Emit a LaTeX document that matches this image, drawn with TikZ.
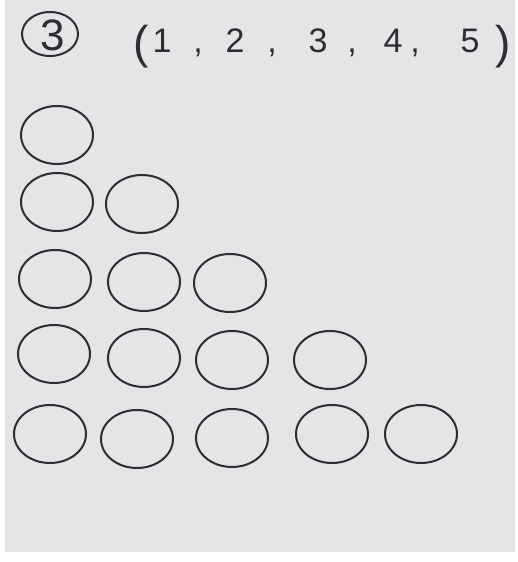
\documentclass[tikz,border=0pt]{standalone}
\usepackage{fontspec}
\setmainfont{Liberation Sans}
\usetikzlibrary{shapes.geometric}
\definecolor{paper}{RGB}{228,229,231}
\definecolor{ink}{RGB}{45,45,50}
\tikzset{
  ring/.style={draw=ink, line width=2pt, ellipse, minimum width=72pt, minimum height=58pt, inner sep=0pt},
  glyph/.style={text=ink, anchor=base, inner sep=0pt, font=\fontsize{34}{34}\selectfont},
  paren/.style={text=ink, anchor=base, inner sep=0pt, font=\fontsize{46}{46}\selectfont},
}
\begin{document}
\begin{tikzpicture}[x=1pt,y=-1pt]
\useasboundingbox (0,0) rectangle (517,562);
\fill[white] (0,0) rectangle (517,562);
\fill[paper] (5,0) rectangle (515,552);
% heading
\node[draw=ink, line width=2pt, ellipse, minimum width=56pt, minimum height=44pt, inner sep=0pt] (num) at (50,34) {};
\node[glyph, font=\fontsize{44}{44}\selectfont] (numtxt) at (53,50) {3};
\node[paren] (lp) at (141,58) {(};
\node[glyph] (d1) at (162,52) {1};
\node[glyph] (c1) at (198,52) {,};
\node[glyph] (d2) at (235,52) {2};
\node[glyph] (c2) at (272,52) {,};
\node[glyph] (d3) at (318,52) {3};
\node[glyph] (c3) at (352,52) {,};
\node[glyph] (d4) at (393,52) {4};
\node[glyph] (c4) at (415,52) {,};
\node[glyph] (d5) at (470,52) {5};
\node[paren] (rp) at (503,58) {)};
% circles
\node[ring] (r1a) at (57,135) {};
\node[ring] (r2a) at (57,202) {};
\node[ring] (r2b) at (142,204) {};
\node[ring] (r3a) at (55,279) {};
\node[ring] (r3b) at (144,282) {};
\node[ring] (r3c) at (230,283) {};
\node[ring] (r4a) at (54,354) {};
\node[ring] (r4b) at (144,358) {};
\node[ring] (r4c) at (232,360) {};
\node[ring] (r4d) at (330,360) {};
\node[ring] (r5a) at (50,434) {};
\node[ring] (r5b) at (137,439) {};
\node[ring] (r5c) at (232,438) {};
\node[ring] (r5d) at (332,434) {};
\node[ring] (r5e) at (421,434) {};
\end{tikzpicture}
\end{document}
